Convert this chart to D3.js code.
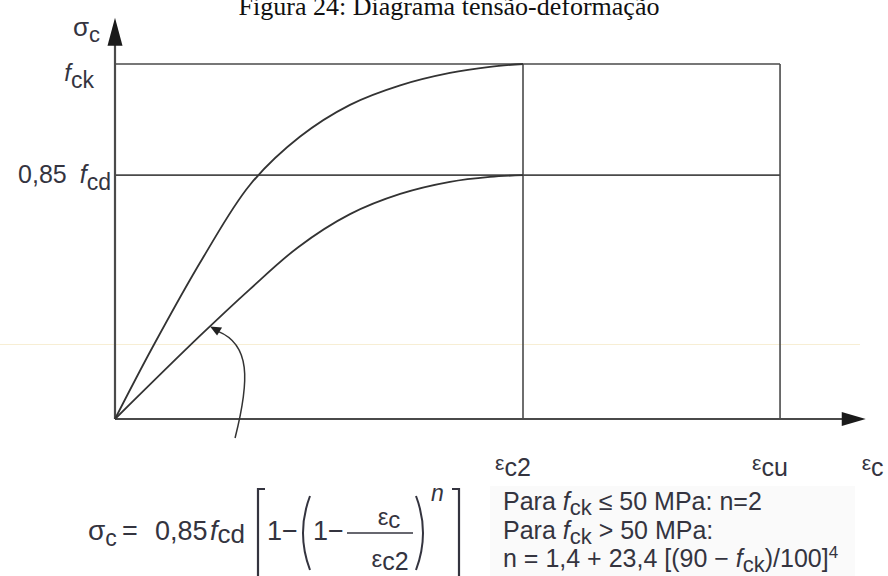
<!DOCTYPE html>
<html>
<head>
<meta charset="utf-8">
<script src="https://cdn.jsdelivr.net/npm/d3@7.9.0/dist/d3.min.js"></script>
<style>
  body { margin: 0; background: #fff; }
  svg { display: block; }
</style>
</head>
<body>
<svg id="chart"></svg>
<script>
// strain in units of εc2, stress in units of fck
const upperStrain = [0, 0.091, 0.216, 0.331, 0.453, 0.576, 0.699, 0.821, 0.919, 1.0];
const upperStress = [0, 0.200, 0.455, 0.660, 0.795, 0.885, 0.940, 0.975, 0.992, 1.0];
const lowerStrain = [0, 0.208, 0.331, 0.449, 0.576, 0.699, 0.821, 0.919, 1.0];
const lowerStress = [0, 0.234, 0.366, 0.484, 0.577, 0.634, 0.668, 0.682, 0.687];

const strainMarks = [1.0, 1.63];           // εc2, εcu
const strainLabels = ["c2", "cu"];
const stressLevels = [1.0, 0.687];         // fck, 0,85 fcd
const axisMax = { x: 1.84, y: 1.13 };
const arrowAnchor = 0.233;                 // strain where the arrow touches the lower curve

const W = 888, H = 576;
const ink = "#34343f";
const lineCol = "#4a4a4a";

const svg = d3.select("#chart").attr("width", W).attr("height", H);

const x = d3.scaleLinear().domain([0, 1]).range([115, 523]);
const y = d3.scaleLinear().domain([0, 1]).range([419, 64]);

// faint scan line
svg.append("line")
    .attr("x1", 0).attr("x2", 860)
    .attr("y1", 344.5).attr("y2", 344.5)
    .attr("stroke", "#f7eed4").attr("stroke-width", 1);

// title (cut at the top like the scan)
svg.append("text")
    .attr("x", 449).attr("y", 15)
    .attr("text-anchor", "middle")
    .style("font-family", "'Liberation Serif', 'Times New Roman', serif")
    .style("font-size", "26px")
    .attr("fill", "#111")
    .text("Figura 24: Diagrama tensão-deformação");

// grid lines: stress levels to εcu
svg.selectAll(".level")
    .data(stressLevels)
    .enter().append("line")
    .attr("x1", x(0)).attr("x2", x(strainMarks[1]))
    .attr("y1", d => y(d)).attr("y2", d => y(d))
    .attr("stroke", lineCol).attr("stroke-width", 1.6);

svg.selectAll(".vmark")
    .data(strainMarks)
    .enter().append("line")
    .attr("x1", d => x(d)).attr("x2", d => x(d))
    .attr("y1", y(0)).attr("y2", y(stressLevels[0]))
    .attr("stroke", lineCol).attr("stroke-width", 1.6);

// axes
svg.append("line")
    .attr("x1", x(0)).attr("x2", x(axisMax.x) - 10)
    .attr("y1", y(0)).attr("y2", y(0))
    .attr("stroke", lineCol).attr("stroke-width", 2.2);
svg.append("line")
    .attr("x1", x(0)).attr("x2", x(0))
    .attr("y1", y(0)).attr("y2", y(axisMax.y) + 10)
    .attr("stroke", lineCol).attr("stroke-width", 2.2);

const xe = x(axisMax.x), ye = y(axisMax.y);
svg.append("path")
    .attr("d", `M${xe},${y(0)} L${xe - 24},${y(0) - 7} L${xe - 24},${y(0) + 7} Z`)
    .attr("fill", "#1a1a1a");
svg.append("path")
    .attr("d", `M${x(0)},${ye} L${x(0) - 7.5},${ye + 28} L${x(0) + 7.5},${ye + 28} Z`)
    .attr("fill", "#1a1a1a");

// curves
const line = d3.line()
    .x(d => x(d[0])).y(d => y(d[1]))
    .curve(d3.curveCatmullRom.alpha(0.5));

const upper = upperStrain.map((s, i) => [s, upperStress[i]]);
const lower = lowerStrain.map((s, i) => [s, lowerStress[i]]);

[upper, lower].forEach(pts => {
    svg.append("path")
        .attr("d", line(pts))
        .attr("fill", "none")
        .attr("stroke", "#333")
        .attr("stroke-width", 1.8);
});

// annotation arrow pointing at lower curve
const k = d3.bisectRight(lowerStrain, arrowAnchor);
const tk = (arrowAnchor - lowerStrain[k - 1]) / (lowerStrain[k] - lowerStrain[k - 1]);
const ax = x(arrowAnchor), ay = y(lowerStress[k - 1] + tk * (lowerStress[k] - lowerStress[k - 1]));
svg.append("path")
    .attr("d", `M${ax + 25},${y(0) + 19} C${ax + 40},${y(0) - 40} ${ax + 40},${ay + 18} ${ax + 8},${ay + 5}`)
    .attr("fill", "none")
    .attr("stroke", "#333")
    .attr("stroke-width", 1.5);
svg.append("path")
    .attr("d", `M${ax},${ay} L${ax + 12},${ay + 1} L${ax + 7},${ay + 9} Z`)
    .attr("fill", "#222");

const sans = "'Liberation Sans', Arial, sans-serif";

function label(xp, yp, parts, anchor) {
    const t = svg.append("text")
        .attr("x", xp).attr("y", yp)
        .attr("text-anchor", anchor || "start")
        .style("font-family", sans)
        .attr("fill", ink);
    parts.forEach(p => {
        const s = t.append("tspan").text(p.t).style("font-size", (p.size || 24) + "px");
        if (p.dy) s.attr("dy", p.dy);
        if (p.italic) s.style("font-style", "italic");
        if (p.dx) s.attr("dx", p.dx);
    });
    return t;
}

// y labels
label(100, 36, [{ t: "σ", size: 26 }, { t: "c", size: 22, dy: 6 }], "end");
label(94, 81, [{ t: "f", italic: true, size: 24 }, { t: "ck", size: 23, dy: 7 }], "end");
label(111, 183, [{ t: "0,85", size: 25 }, { t: "f", italic: true, size: 25, dx: 13 }, { t: "cd", size: 23, dy: 7 }], "end");

// x labels
strainMarks.forEach((m, i) => {
    label(x(m) - 28, 470, [{ t: "ε", size: 21 }, { t: strainLabels[i], size: 25, dy: 6 }]);
});
label(x(axisMax.x) - 4, 470, [{ t: "ε", size: 21 }, { t: "c", size: 25, dy: 6 }]);

// formula
label(88, 540, [{ t: "σ", size: 28 }, { t: "c", size: 23, dy: 6 }]);
label(122, 540, [{ t: "=", size: 27 }]);
label(155, 540, [{ t: "0,85", size: 27 }]);
label(210, 540, [{ t: "f", size: 27, italic: true }, { t: "cd", size: 26, dy: 3 }]);
label(267, 540, [{ t: "1", size: 27 }]);
label(282, 540, [{ t: "−", size: 27 }]);
label(313, 540, [{ t: "1", size: 27 }]);
label(328, 540, [{ t: "−", size: 27 }]);
label(389, 525, [{ t: "ε", size: 24 }, { t: "c", size: 24, dy: 3 }], "middle");
label(390, 567, [{ t: "ε", size: 24 }, { t: "c2", size: 25, dy: 3 }], "middle");
label(431, 501, [{ t: "n", size: 23, italic: true }]);

const fpath = (d, w) => svg.append("path").attr("d", d).attr("fill", "none")
    .attr("stroke", ink).attr("stroke-width", w || 2);
fpath("M347,533 L413,533", 1.6);
fpath("M265,489 L258,489 L258,580", 2.2);
fpath("M452,489 L459,489 L459,580", 2.2);
fpath("M310,496 Q296,533 310,570", 2);
fpath("M416,496 Q430,533 416,570", 2);

// conditions block
svg.append("rect")
    .attr("x", 490).attr("y", 486).attr("width", 365).attr("height", 90)
    .attr("fill", "#fafafa");
label(503, 510, [{ t: "Para ", size: 25 }, { t: "f", italic: true, size: 25 }, { t: "ck", size: 22, dy: 5 },
    { t: " ≤ 50 MPa: n=2", size: 25, dy: -5 }]);
label(503, 539, [{ t: "Para ", size: 25 }, { t: "f", italic: true, size: 25 }, { t: "ck", size: 22, dy: 5 },
    { t: " > 50 MPa:", size: 25, dy: -5 }]);
label(503, 567, [{ t: "n = 1,4 + 23,4 [(90 − ", size: 25 }, { t: "f", italic: true, size: 25 }, { t: "ck", size: 22, dy: 5 },
    { t: ")/100]", size: 25, dy: -5 }, { t: "4", size: 17, dy: -9 }]);
</script>
</body>
</html>
